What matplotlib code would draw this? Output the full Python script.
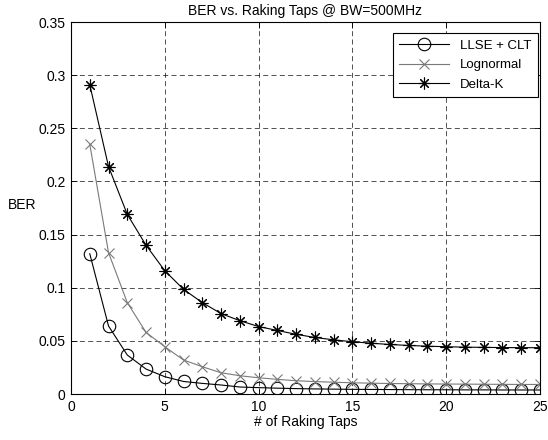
import numpy as np
import matplotlib
matplotlib.use("Agg")
from matplotlib import pyplot as plt

plt.rcParams['font.family'] = ['Liberation Sans', 'DejaVu Sans']

taps = list(range(1, 26))

llse_clt = [0.132, 0.064, 0.0367, 0.0235, 0.0163, 0.0118, 0.0100, 0.0085, 0.0066, 0.0060,
            0.0055, 0.0051, 0.0048, 0.0046, 0.0044, 0.0043, 0.0042, 0.0041, 0.0040, 0.0040,
            0.0039, 0.0039, 0.0038, 0.0038, 0.0038]
lognormal = [0.235, 0.133, 0.086, 0.058, 0.0445, 0.032, 0.0257, 0.020, 0.0172, 0.0153,
             0.0138, 0.0125, 0.0117, 0.0111, 0.0106, 0.0102, 0.0099, 0.0097, 0.0095, 0.0094,
             0.0093, 0.0092, 0.0091, 0.0090, 0.0090]
delta_k = [0.291, 0.214, 0.169, 0.140, 0.116, 0.0985, 0.086, 0.0757, 0.069, 0.0635,
           0.0598, 0.0562, 0.0532, 0.0510, 0.0492, 0.0478, 0.0466, 0.0457, 0.0450, 0.0445,
           0.0441, 0.0439, 0.0437, 0.0436, 0.0436]

fig = plt.figure(figsize=(5.48, 4.40), dpi=100)
ax = fig.add_axes([0.1296, 0.1045, 0.8554, 0.8455])

ax.plot(taps, llse_clt, color='black', lw=0.8, marker='o', ms=9, mfc='none', mec='black',
        mew=0.8, label='LLSE + CLT')
ax.plot(taps, lognormal, color='#7a7a7a', lw=0.8, marker='x', ms=6.5, mec='#7a7a7a',
        mew=0.8, label='Lognormal')
ax.plot(taps, delta_k, color='black', lw=0.8, marker=(8, 2, 0), ms=8.5, mec='black',
        mew=0.8, label='Delta-K')

ax.set_xlim(0, 25)
ax.set_ylim(0, 0.35)
ax.set_xticks([0, 5, 10, 15, 20, 25])
ax.set_yticks(np.arange(0, 0.351, 0.05))
ax.set_yticklabels(['0', '0.05', '0.1', '0.15', '0.2', '0.25', '0.3', '0.35'])
ax.grid(True, color='black', ls=(0, (6, 4)), lw=0.6, alpha=0.8)
ax.tick_params(labelsize=10, direction='in', length=4, width=0.6,
               top=True, right=True, pad=4)
for s in ax.spines.values():
    s.set_linewidth(0.8)

ax.set_title('BER vs. Raking Taps @ BW=500MHz', fontsize=10, pad=5)
ax.set_xlabel('# of Raking Taps', fontsize=10, labelpad=1)
ax.set_ylabel('BER', fontsize=10, rotation=0, labelpad=13)
ax.yaxis.set_label_coords(-0.105, 0.49)

leg = ax.legend(loc='upper right', bbox_to_anchor=(0.9957, 0.9704), fontsize=9.5,
                fancybox=False, edgecolor='black', framealpha=1, borderaxespad=0,
                handlelength=3.8, labelspacing=0.55, borderpad=0.5)
leg.get_frame().set_linewidth(0.8)

fig.savefig('out.png', dpi=100)
